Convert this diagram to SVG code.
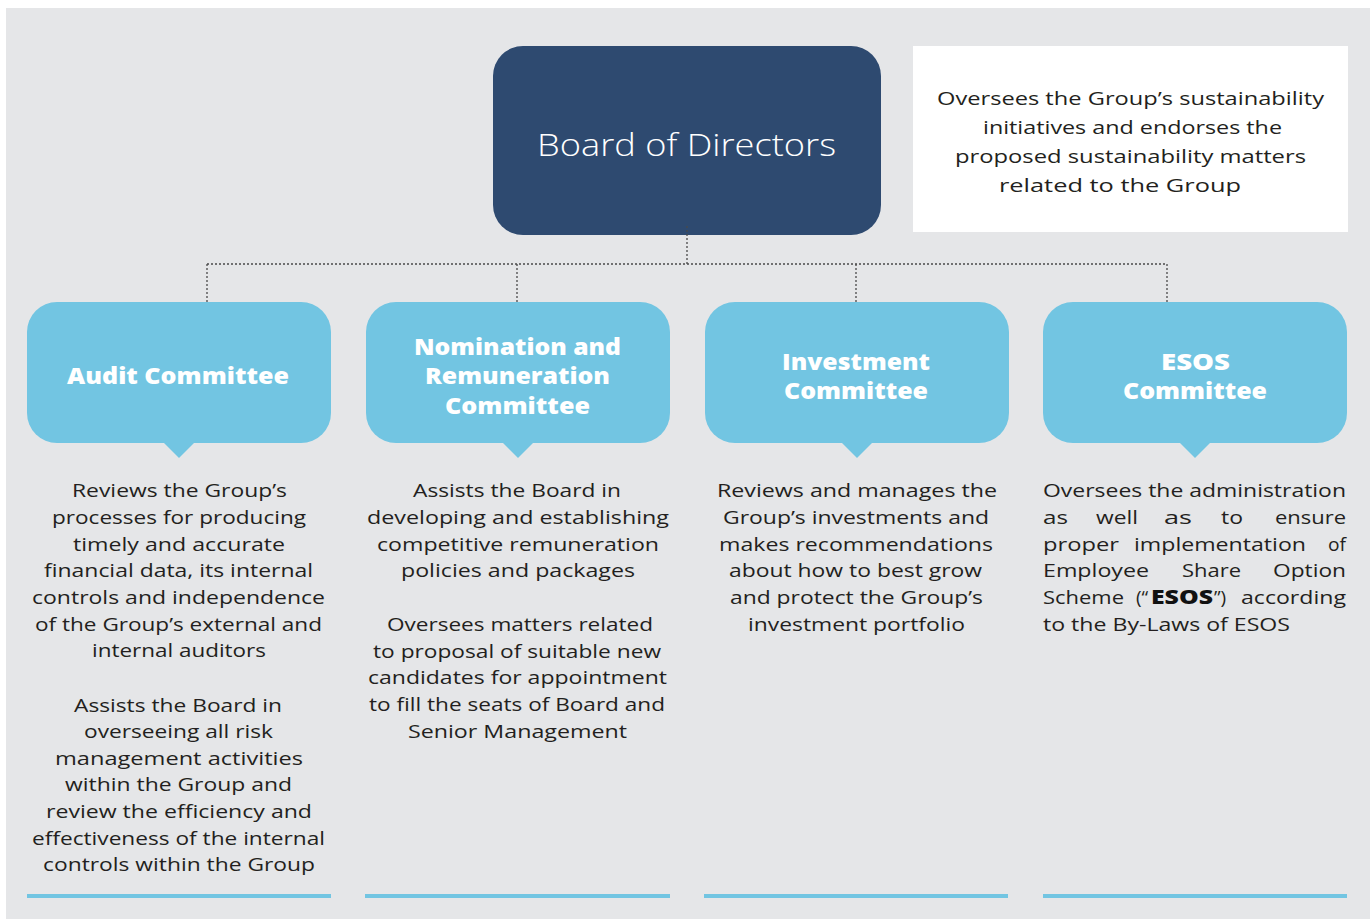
<svg xmlns="http://www.w3.org/2000/svg" width="1370" height="919" viewBox="0 0 1370 919">
<style>
.bg{fill:#E5E6E8}
.board{fill:#2E4A70}
.cm{fill:#72C5E2}
.note{fill:#FFFFFF}
.conn{fill:none;stroke:#4A4A4A;stroke-width:1.3;stroke-dasharray:2 2}
.t{font-family:"Open Sans","Noto Sans","Liberation Sans",sans-serif;font-size:19px;fill:#231F20}
.tb{font-family:"Open Sans","Noto Sans","Liberation Sans",sans-serif;font-size:19px;font-weight:800;fill:#111111}
.h{font-family:"Open Sans","Noto Sans","Liberation Sans",sans-serif;font-size:22px;font-weight:800;fill:#FFFFFF}
.bt{font-family:"Open Sans","Noto Sans","Liberation Sans",sans-serif;font-size:32px;font-weight:300;fill:#FFFFFF}
.rule{fill:#72C5E2}
</style>
<rect class="bg" x="6" y="8" width="1364" height="911"/>

<g id="board">
<rect class="board" x="493" y="46" width="388" height="189" rx="30" ry="30"/>
<text class="bt" x="537" y="156" textLength="299" lengthAdjust="spacingAndGlyphs">Board of Directors</text>
</g>

<g id="sustainability-note">
<rect class="note" x="913" y="46" width="435" height="186"/>
<text class="t" x="937" y="105" textLength="387" lengthAdjust="spacingAndGlyphs">Oversees the Group’s sustainability</text>
<text class="t" x="983" y="134" textLength="299" lengthAdjust="spacingAndGlyphs">initiatives and endorses the</text>
<text class="t" x="955" y="163" textLength="351" lengthAdjust="spacingAndGlyphs">proposed sustainability matters</text>
<text class="t" x="999" y="192" textLength="242" lengthAdjust="spacingAndGlyphs">related to the Group</text>
</g>

<g id="connectors">
<path class="conn" d="M687 226 V264 M207 264 H1167 M207 264 V302 M517 264 V302 M856 264 V302 M1167 264 V302"/>
</g>

<g id="audit">
<rect class="cm" x="27" y="302" width="304" height="141" rx="30" ry="30"/>
<polygon class="cm" points="163,442 195,442 179,458"/>
<text class="h" x="67" y="384" textLength="222" lengthAdjust="spacingAndGlyphs">Audit Committee</text>
<text class="t" x="72" y="497" textLength="215" lengthAdjust="spacingAndGlyphs">Reviews the Group’s</text>
<text class="t" x="52" y="524" textLength="254" lengthAdjust="spacingAndGlyphs">processes for producing</text>
<text class="t" x="73" y="551" textLength="212" lengthAdjust="spacingAndGlyphs">timely and accurate</text>
<text class="t" x="44" y="577" textLength="269" lengthAdjust="spacingAndGlyphs">financial data, its internal</text>
<text class="t" x="32" y="604" textLength="293" lengthAdjust="spacingAndGlyphs">controls and independence</text>
<text class="t" x="35" y="631" textLength="287" lengthAdjust="spacingAndGlyphs">of the Group’s external and</text>
<text class="t" x="92" y="657" textLength="174" lengthAdjust="spacingAndGlyphs">internal auditors</text>
<text class="t" x="74" y="711.5" textLength="208" lengthAdjust="spacingAndGlyphs">Assists the Board in</text>
<text class="t" x="84" y="738" textLength="189" lengthAdjust="spacingAndGlyphs">overseeing all risk</text>
<text class="t" x="55" y="765" textLength="248" lengthAdjust="spacingAndGlyphs">management activities</text>
<text class="t" x="65" y="791" textLength="227" lengthAdjust="spacingAndGlyphs">within the Group and</text>
<text class="t" x="46" y="818" textLength="266" lengthAdjust="spacingAndGlyphs">review the efficiency and</text>
<text class="t" x="32" y="844.5" textLength="293" lengthAdjust="spacingAndGlyphs">effectiveness of the internal</text>
<text class="t" x="43" y="871" textLength="272" lengthAdjust="spacingAndGlyphs">controls within the Group</text>
<rect class="rule" x="27" y="894" width="304" height="4"/>
</g>

<g id="nomination">
<rect class="cm" x="366" y="302" width="304" height="141" rx="30" ry="30"/>
<polygon class="cm" points="502,442 534,442 518,458"/>
<text class="h" x="414" y="355" textLength="207" lengthAdjust="spacingAndGlyphs">Nomination and</text>
<text class="h" x="425" y="384" textLength="185" lengthAdjust="spacingAndGlyphs">Remuneration</text>
<text class="h" x="445" y="413.5" textLength="145" lengthAdjust="spacingAndGlyphs">Committee</text>
<text class="t" x="413" y="497" textLength="208" lengthAdjust="spacingAndGlyphs">Assists the Board in</text>
<text class="t" x="367" y="524" textLength="302" lengthAdjust="spacingAndGlyphs">developing and establishing</text>
<text class="t" x="377" y="551" textLength="282" lengthAdjust="spacingAndGlyphs">competitive remuneration</text>
<text class="t" x="401" y="577" textLength="234" lengthAdjust="spacingAndGlyphs">policies and packages</text>
<text class="t" x="387" y="631" textLength="266" lengthAdjust="spacingAndGlyphs">Oversees matters related</text>
<text class="t" x="373" y="657.5" textLength="288" lengthAdjust="spacingAndGlyphs">to proposal of suitable new</text>
<text class="t" x="368" y="684" textLength="299" lengthAdjust="spacingAndGlyphs">candidates for appointment</text>
<text class="t" x="369" y="711" textLength="296" lengthAdjust="spacingAndGlyphs">to fill the seats of Board and</text>
<text class="t" x="408" y="737.5" textLength="219" lengthAdjust="spacingAndGlyphs">Senior Management</text>
<rect class="rule" x="365" y="894" width="305" height="4"/>
</g>

<g id="investment">
<rect class="cm" x="705" y="302" width="304" height="141" rx="30" ry="30"/>
<polygon class="cm" points="841,442 873,442 857,458"/>
<text class="h" x="782" y="370" textLength="148" lengthAdjust="spacingAndGlyphs">Investment</text>
<text class="h" x="784" y="399" textLength="144" lengthAdjust="spacingAndGlyphs">Committee</text>
<text class="t" x="717" y="497" textLength="280" lengthAdjust="spacingAndGlyphs">Reviews and manages the</text>
<text class="t" x="723" y="524" textLength="266" lengthAdjust="spacingAndGlyphs">Group’s investments and</text>
<text class="t" x="719" y="551" textLength="274" lengthAdjust="spacingAndGlyphs">makes recommendations</text>
<text class="t" x="729" y="577" textLength="253" lengthAdjust="spacingAndGlyphs">about how to best grow</text>
<text class="t" x="730" y="604" textLength="253" lengthAdjust="spacingAndGlyphs">and protect the Group’s</text>
<text class="t" x="748" y="631" textLength="217" lengthAdjust="spacingAndGlyphs">investment portfolio</text>
<rect class="rule" x="704" y="894" width="304" height="4"/>
</g>

<g id="esos">
<rect class="cm" x="1043" y="302" width="304" height="141" rx="30" ry="30"/>
<polygon class="cm" points="1179,442 1211,442 1195,458"/>
<text class="h" x="1161" y="370" textLength="69" lengthAdjust="spacingAndGlyphs">ESOS</text>
<text class="h" x="1123" y="399" textLength="144" lengthAdjust="spacingAndGlyphs">Committee</text>
<text class="t" x="1043" y="497" textLength="303" lengthAdjust="spacingAndGlyphs">Oversees the administration</text>
<text class="t" x="1043" y="524" textLength="25" lengthAdjust="spacingAndGlyphs">as</text>
<text class="t" x="1096" y="524" textLength="42" lengthAdjust="spacingAndGlyphs">well</text>
<text class="t" x="1164" y="524" textLength="28" lengthAdjust="spacingAndGlyphs">as</text>
<text class="t" x="1221" y="524" textLength="22" lengthAdjust="spacingAndGlyphs">to</text>
<text class="t" x="1275" y="524" textLength="71" lengthAdjust="spacingAndGlyphs">ensure</text>
<text class="t" x="1043" y="551" textLength="76" lengthAdjust="spacingAndGlyphs">proper</text>
<text class="t" x="1134" y="551" textLength="172" lengthAdjust="spacingAndGlyphs">implementation</text>
<text class="t" x="1328" y="551" textLength="18" lengthAdjust="spacingAndGlyphs">of</text>
<text class="t" x="1043" y="577" textLength="106" lengthAdjust="spacingAndGlyphs">Employee</text>
<text class="t" x="1182" y="577" textLength="59" lengthAdjust="spacingAndGlyphs">Share</text>
<text class="t" x="1273" y="577" textLength="73" lengthAdjust="spacingAndGlyphs">Option</text>
<text class="t" x="1043" y="604" textLength="81" lengthAdjust="spacingAndGlyphs">Scheme</text>
<text class="t" x="1136" y="604">(“</text>
<text class="tb" x="1151" y="604" textLength="62" lengthAdjust="spacingAndGlyphs">ESOS</text>
<text class="t" x="1214" y="604">”)</text>
<text class="t" x="1241" y="604" textLength="105" lengthAdjust="spacingAndGlyphs">according</text>
<text class="t" x="1043" y="631" textLength="247" lengthAdjust="spacingAndGlyphs">to the By-Laws of ESOS</text>
<rect class="rule" x="1043" y="894" width="304" height="4"/>
</g>
</svg>
